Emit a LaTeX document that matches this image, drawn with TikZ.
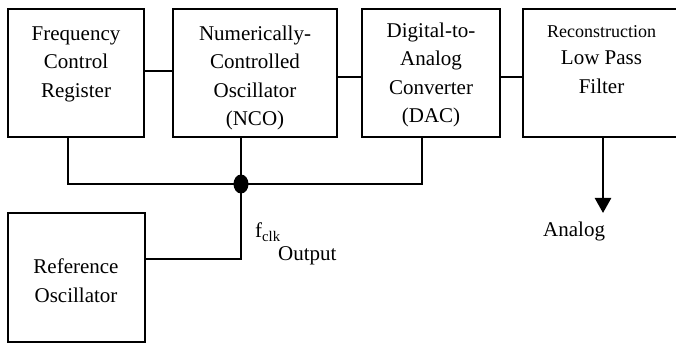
\documentclass[tikz,border=0pt]{standalone}
\usepackage{fontspec}
\setmainfont{Liberation Serif}
\usetikzlibrary{arrows.meta}
\begin{document}
\begin{tikzpicture}[x=1pt,y=-1pt,
  wire/.style={line width=2.5pt},
  blockbox/.style={draw,line width=2.5pt,rectangle,inner sep=0pt},
  blocktext/.style={align=center,inner sep=0pt,anchor=north,
    font=\fontsize{21}{28.5}\selectfont},
  label/.style={inner sep=0pt,anchor=base west,font=\fontsize{21}{25}\selectfont}]
  \useasboundingbox (0,0) rectangle (676,344);
  \clip (0,0) rectangle (676,344);

  % blocks
  \node[blockbox,minimum width=136pt,minimum height=128pt] (fcr) at (76,73) {};
  \node[blockbox,minimum width=164pt,minimum height=128pt] (nco) at (255,73) {};
  \node[blockbox,minimum width=138pt,minimum height=128pt] (dac) at (431,73) {};
  \node[blockbox,minimum width=157pt,minimum height=128pt] (lpf) at (601.5,73) {};
  \node[blockbox,minimum width=137pt,minimum height=129pt] (refosc) at (76.5,277.5) {};

  % block captions
  \node[blocktext] (fcrt) at (76,26.1) {Frequency\\Control\\Register};
  \node[blocktext] (ncot) at (255,25.7) {Numerically-\\Controlled\\Oscillator\\(NCO)};
  \node[blocktext] (dact) at (431,22.7) {Digital-to-\\Analog\\Converter\\(DAC)};
  \node[blocktext] (lpft) at (601.5,25) {{\fontsize{18}{22}\selectfont Reconstruction}\\[-1pt]Low Pass\\Filter};
  \node[blocktext] (refosct) at (76,258.7) {Reference\\Oscillator};

  % signal chain
  \draw[wire] ([yshift=2pt]fcr.east) -- ([yshift=2pt]nco.west);
  \draw[wire] ([yshift=-4pt]nco.east) -- ([yshift=-4pt]dac.west);
  \draw[wire] ([yshift=-4pt]dac.east) -- ([yshift=-4pt]lpf.west);

  % clock distribution
  \coordinate (bus) at (241,184);
  \draw[wire] ([xshift=-8pt]fcr.south) |- (bus) -| ([xshift=-9pt]dac.south);
  \draw[wire] ([xshift=-14pt]nco.south) -- (bus);
  \draw[wire] ([yshift=18.5pt]refosc.east) -| (bus);
  \fill (bus) ellipse [x radius=7.5, y radius=9.5];

  % analog output
  \coordinate (aout) at (603,213);
  \draw[wire,-{Triangle[width=16pt,length=15pt]}] ([xshift=1.5pt]lpf.south) -- (aout);

  % labels
  \node[label] (fclk) at (255,238) {f\textsubscript{clk}};
  \node[label] (outp) at (278,260) {Output};
  \node[label] (anl) at (543,237) {Analog};
\end{tikzpicture}
\end{document}
